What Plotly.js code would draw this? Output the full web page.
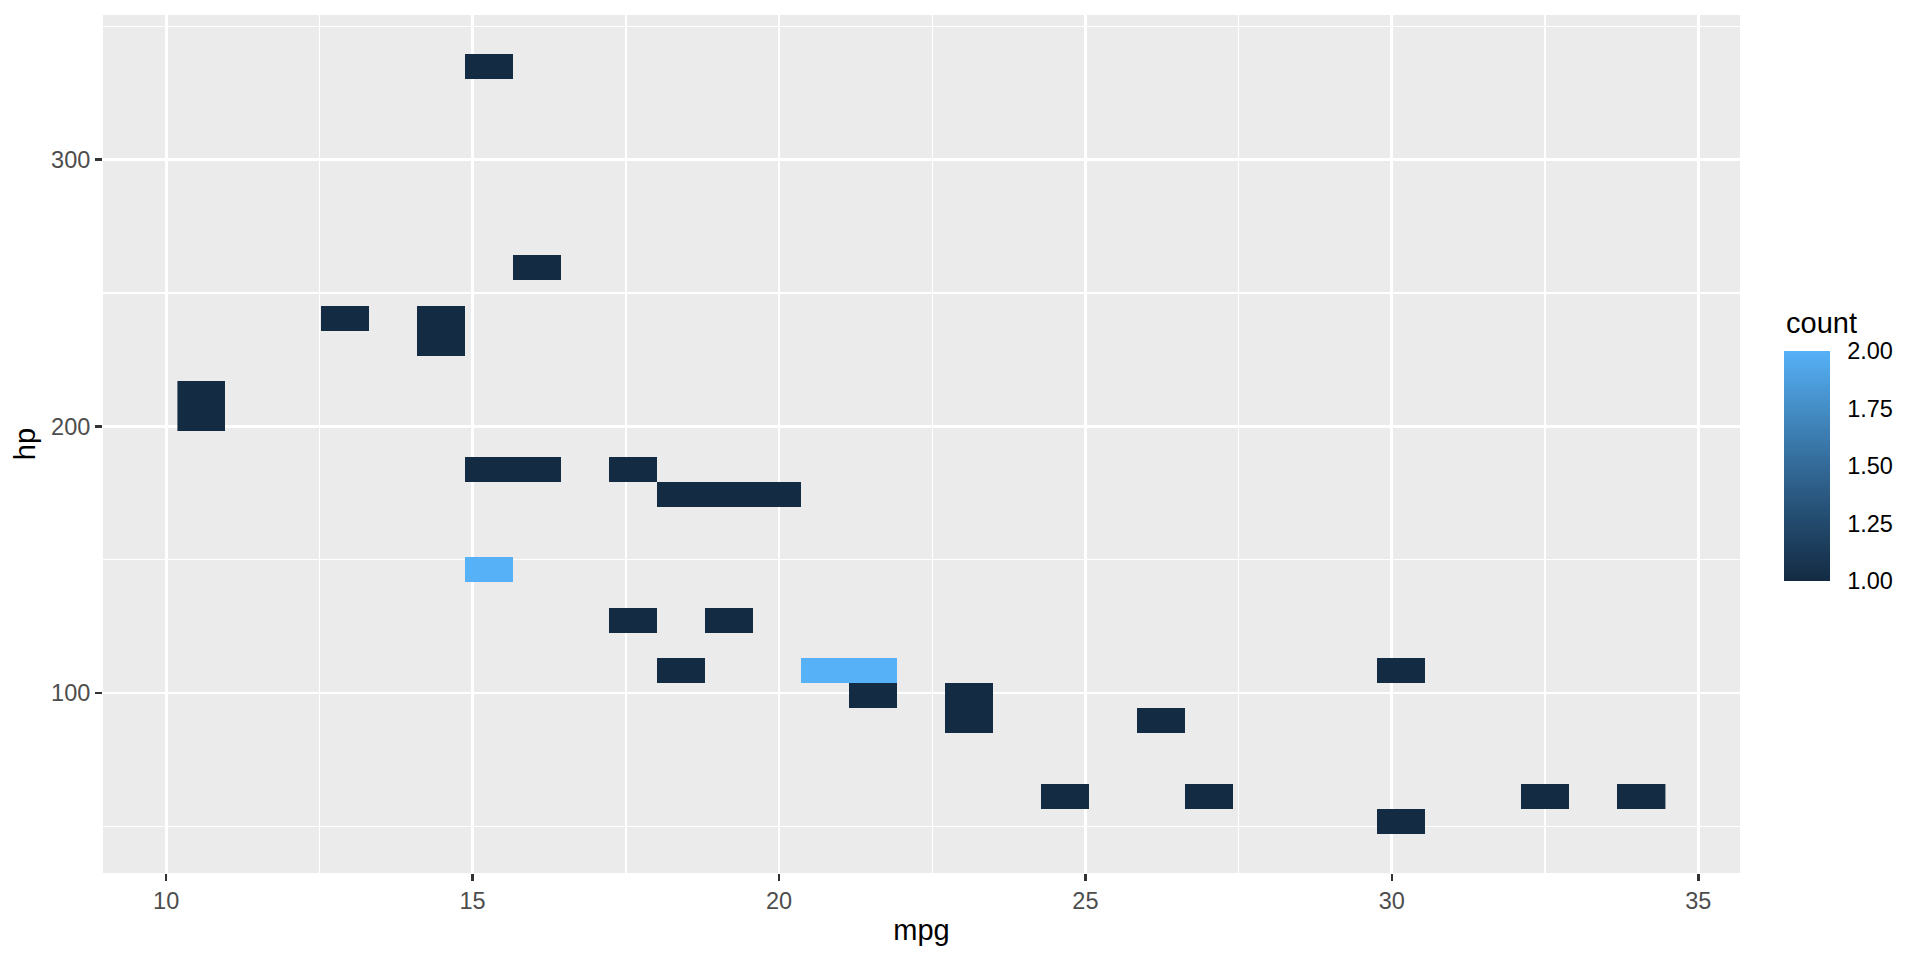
<!DOCTYPE html>
<html>
<head>
<meta charset="utf-8">
<script src="https://cdn.plot.ly/plotly-3.0.1.min.js"></script>
<style>html,body{margin:0;padding:0;background:#fff;}#chart{width:1920px;height:960px;}</style>
</head>
<body>
<div id="chart"></div>
<script>
// Bins of mtcars: mpg bin centre, hp bin centre, count of cars in the bin
const mpgBinCenter = [20.758, 23.108, 21.542, 18.408, 18.408, 14.492, 24.675, 23.108, 19.192, 17.625,
                      16.058, 17.625, 15.275, 10.575, 10.575, 14.492, 32.508, 30.158, 34.075, 21.542,
                      15.275, 12.925, 19.192, 27.025, 26.242, 30.158, 16.058, 19.975, 15.275];
const hpBinCenter  = [108.483, 89.617, 108.483, 174.517, 108.483, 240.550, 61.317, 99.050, 127.350, 127.350,
                      183.950, 183.950, 183.950, 202.817, 212.250, 231.117, 61.317, 51.883, 61.317, 99.050,
                      146.217, 240.550, 174.517, 61.317, 89.617, 108.483, 259.417, 174.517, 334.883];
const binCount     = [2, 1, 2, 1, 1, 1, 1, 1, 1, 1,
                      1, 1, 1, 1, 1, 1, 1, 1, 1, 1,
                      2, 1, 1, 1, 1, 1, 1, 1, 1];
const colorTicks = [1.00, 1.25, 1.50, 1.75, 2.00];

// bin grid (30 bins over each variable's range)
const X0 = 10.575, DX = 23.5 / 30;
const Y0 = 51.8833, DY = 283 / 30;
const NX = 31, NY = 31;
const z = [];
for (let j = 0; j < NY; j++) { z.push(new Array(NX).fill(null)); }
for (let k = 0; k < binCount.length; k++) {
  const i = Math.round((mpgBinCenter[k] - X0) / DX);
  const j = Math.round((hpBinCenter[k] - Y0) / DY);
  z[j][i] = binCount[k];
}

const FONT = 'Liberation Sans, Arial, Helvetica, sans-serif';
const trace = {
  type: 'heatmap',
  z: z, x0: X0, dx: DX, y0: Y0, dy: DY,
  zmin: 1, zmax: 2, zsmooth: false,
  colorscale: [[0, '#132B43'], [0.25, '#22496C'], [0.5, '#336A98'], [0.75, '#448DC6'], [1, '#56B1F7']],
  hoverinfo: 'skip',
  colorbar: {
    title: {text: '', side: 'top'},
    tickvals: colorTicks, tickformat: '.2f',
    tickfont: {family: FONT, size: 23.5, color: '#000'},
    ticks: 'outside', ticklen: 13, tickcolor: 'rgba(255,255,255,0)', tickwidth: 1,
    thickness: 46, thicknessmode: 'pixels',
    len: 230, lenmode: 'pixels',
    x: 1.0269, xanchor: 'left', xpad: 0,
    y: 0.4744, yanchor: 'middle', ypad: 0,
    outlinewidth: 0, bgcolor: 'rgba(0,0,0,0)'
  }
};

const layout = {
  width: 1920, height: 960,
  margin: {l: 103, r: 180, t: 15, b: 87, pad: 0},
  paper_bgcolor: '#ffffff', plot_bgcolor: '#EBEBEB',
  font: {family: FONT, color: '#000'},
  showlegend: false,
  xaxis: {
    range: [8.969, 35.681], tickvals: [10, 15, 20, 25, 30, 35],
    showgrid: true, gridcolor: '#ffffff', gridwidth: 2.7, zeroline: false, showline: false,
    ticks: 'outside', ticklen: 7, tickwidth: 2.5, tickcolor: '#333333',
    tickfont: {family: FONT, size: 23.5, color: '#4D4D4D'},
    minor: {tickvals: [12.5, 17.5, 22.5, 27.5, 32.5], showgrid: true, gridcolor: '#ffffff', gridwidth: 1.4, ticks: ''},
    title: {text: 'mpg', font: {family: FONT, size: 29, color: '#000'}, standoff: 6},
    fixedrange: true
  },
  yaxis: {
    range: [32.54, 354.22], tickvals: [100, 200, 300],
    showgrid: true, gridcolor: '#ffffff', gridwidth: 2.7, zeroline: false, showline: false,
    ticks: 'outside', ticklen: 7, tickwidth: 2.5, tickcolor: '#333333',
    tickfont: {family: FONT, size: 23.5, color: '#4D4D4D'},
    minor: {tickvals: [50, 150, 250, 350], showgrid: true, gridcolor: '#ffffff', gridwidth: 1.4, ticks: ''},
    title: {text: 'hp', font: {family: FONT, size: 29, color: '#000'}, standoff: 6},
    fixedrange: true
  },
  annotations: [{
    text: 'count', xref: 'paper', yref: 'paper', x: 1.0269, y: 0.641,
    xanchor: 'left', yanchor: 'middle', showarrow: false,
    font: {family: FONT, size: 29, color: '#000'}
  }]
};

Plotly.newPlot('chart', [trace], layout, {displayModeBar: false, staticPlot: true});
</script>
</body>
</html>
